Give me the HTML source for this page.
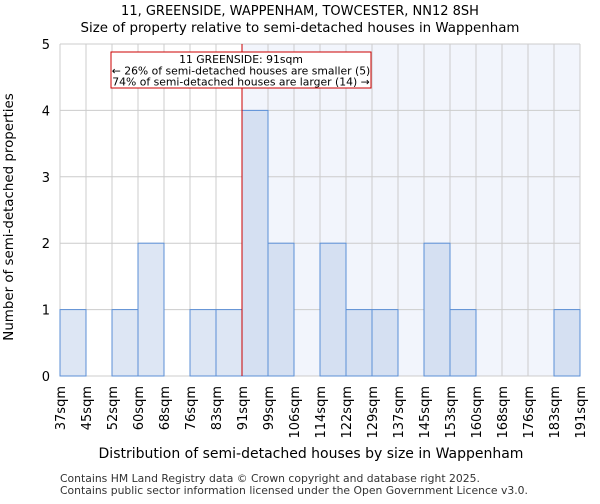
<!DOCTYPE html>
<html><head><meta charset="utf-8"><style>
body{margin:0;background:#fff;font-family:"DejaVu Sans","Liberation Sans",sans-serif;}
</style></head><body>
<svg width="600" height="500" xmlns="http://www.w3.org/2000/svg" font-family="DejaVu Sans, Liberation Sans, sans-serif">
<text x="300" y="15" text-anchor="middle" font-size="13">11, GREENSIDE, WAPPENHAM, TOWCESTER, NN12 8SH</text>
<text x="300" y="32" text-anchor="middle" font-size="13.4">Size of property relative to semi-detached houses in Wappenham</text>
<g id="plot"></g>
<text x="311" y="458" text-anchor="middle" font-size="14">Distribution of semi-detached houses by size in Wappenham</text>
<text transform="translate(13,217) rotate(-90)" text-anchor="middle" font-size="13.4">Number of semi-detached properties</text>
<text x="60" y="482" font-size="10.8" fill="#333">Contains HM Land Registry data © Crown copyright and database right 2025.</text>
<text x="60" y="494" font-size="10.8" fill="#333">Contains public sector information licensed under the Open Government Licence v3.0.</text>
</svg>
<script>
const labels=["37sqm","45sqm","52sqm","60sqm","68sqm","76sqm","83sqm","91sqm","99sqm","106sqm","114sqm","122sqm","129sqm","137sqm","145sqm","153sqm","160sqm","168sqm","176sqm","183sqm","191sqm"];
const counts=[1,0,1,2,0,1,1,4,2,0,2,1,1,0,2,1,0,0,0,1];
const yTicks=[0,1,2,3,4,5];
const markerIndex=7;
const NS="http://www.w3.org/2000/svg";
const g=document.getElementById('plot');
const x0=60,x1=580,y0=376,y1=44,nb=counts.length,bw=(x1-x0)/nb;
const X=i=>x0+i*bw, Y=v=>y0-(v/5)*(y0-y1);
function mk(t,a){const e=document.createElementNS(NS,t);for(const k in a)e.setAttribute(k,a[k]);g.appendChild(e);return e;}
let e=mk('rect',{x:X(markerIndex),y:y1,width:x1-X(markerIndex),height:y0-y1,fill:'#f2f5fc'});


for(let i=0;i<=nb;i++){e=mk('line',{x1:X(i),x2:X(i),y1:y1,y2:y0,stroke:'#ccc','stroke-width':1});

}
yTicks.forEach(v=>{e=mk('line',{x1:x0,x2:x1,y1:Y(v),y2:Y(v),stroke:'#ccc','stroke-width':1});


e=mk('text',{x:x0-10,y:Y(v)+5,'text-anchor':'end','font-size':13});e.textContent=v;

});
counts.forEach((c,i)=>{if(!c)return;
e=mk('rect',{x:X(i),y:Y(c),width:bw,height:y0-Y(c),fill:i<markerIndex?'#dde6f4':'#d5e0f2',stroke:'#5b8fd6','stroke-width':1});

});
labels.forEach((l,i)=>{e=mk('text',{transform:`translate(${X(i)+5},${y0+10}) rotate(-90)`,'text-anchor':'end','font-size':13});e.textContent=l;

});
e=mk('line',{x1:X(markerIndex),x2:X(markerIndex),y1:y1,y2:y0,stroke:'#cc0000','stroke-width':1});


e=mk('rect',{x:111,y:52,width:260,height:36,fill:'#fff',stroke:'#cc0000','stroke-width':1});


["11 GREENSIDE: 91sqm","← 26% of semi-detached houses are smaller (5)","74% of semi-detached houses are larger (14) →"].forEach((t,k)=>{
e=mk('text',{x:241,y:63+k*11.3,'text-anchor':'middle','font-size':10.8});e.textContent=t;

});
</script>
</body></html>
